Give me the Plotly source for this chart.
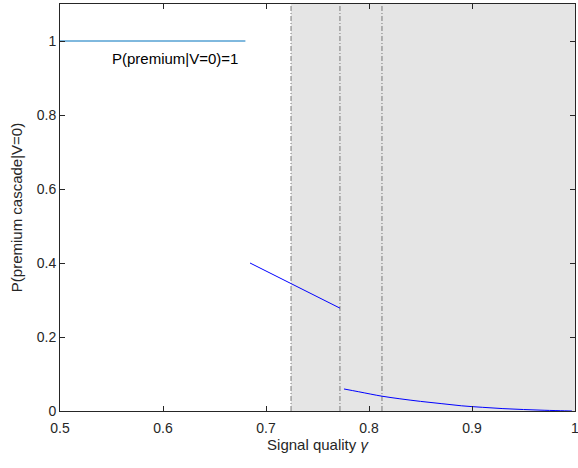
import plotly.graph_objects as go

# Data
x_flat = [0.5, 0.68]
y_flat = [1.0, 1.0]

x_mid = [0.6845, 0.70, 0.72, 0.74, 0.76, 0.7718]
y_mid = [0.400, 0.378, 0.350, 0.322, 0.295, 0.278]

x_low = [0.7757, 0.79, 0.8126, 0.83, 0.85, 0.87, 0.89, 0.91, 0.93, 0.95, 0.97, 0.99, 0.997]
y_low = [0.0595, 0.052, 0.040, 0.033, 0.026, 0.020, 0.014, 0.010, 0.0065, 0.004, 0.002, 0.0005, 0.0]

thresholds = [0.7243, 0.7718, 0.8126]
shade_start = 0.7243
shade_end = 1.0

x_ticks = [0.5, 0.6, 0.7, 0.8, 0.9, 1.0]
x_tick_labels = ["0.5", "0.6", "0.7", "0.8", "0.9", "1"]
y_ticks = [0, 0.2, 0.4, 0.6, 0.8, 1.0]
y_tick_labels = ["0", "0.2", "0.4", "0.6", "0.8", "1"]

font_family = "Liberation Sans, Arial, sans-serif"

fig = go.Figure()

fig.add_shape(type="rect", xref="x", yref="y", x0=shade_start, x1=shade_end, y0=0, y1=1.1,
              fillcolor="#E5E5E5", line_width=0, layer="below")
for t in thresholds:
    fig.add_shape(type="line", xref="x", yref="y", x0=t, x1=t, y0=0, y1=1.1,
                  line=dict(color="#7a7a7a", width=1, dash="5px,2px,1px,2px"), layer="below")

fig.add_trace(go.Scatter(x=x_flat, y=y_flat, mode="lines",
                         line=dict(color="#0072BD", width=1), showlegend=False))
fig.add_trace(go.Scatter(x=x_mid, y=y_mid, mode="lines",
                         line=dict(color="#0000FF", width=1), showlegend=False))
fig.add_trace(go.Scatter(x=x_low, y=y_low, mode="lines", line_shape="spline",
                         line=dict(color="#0000FF", width=1), showlegend=False))

fig.add_annotation(x=0.5485, y=0.954, xref="x", yref="y", text="P(premium|V=0)=1",
                   showarrow=False, xanchor="left", yanchor="middle",
                   font=dict(family=font_family, size=15, color="#000000"))

axis_common = dict(showgrid=False, zeroline=False, showline=True, linecolor="#262626",
                   linewidth=1, mirror="allticks", ticks="inside", ticklen=5,
                   tickcolor="#262626", automargin=False, ticklabeloverflow="allow",
                   tickfont=dict(family=font_family, size=14, color="#262626"))

fig.update_xaxes(range=[0.5, 1.0], tickvals=x_ticks, ticktext=x_tick_labels,
                 ticklabelstandoff=4,
                 title=dict(text="Signal quality <i>γ</i>", font=dict(family=font_family, size=15, color="#262626"),
                            standoff=2),
                 **axis_common)
fig.update_yaxes(range=[0, 1.1], tickvals=y_ticks, ticktext=y_tick_labels,
                 title=dict(text="P(premium cascade|V=0)", font=dict(family=font_family, size=15, color="#262626"),
                            standoff=10),
                 **axis_common)

fig.update_layout(width=578, height=468, margin=dict(l=60, r=3, t=4, b=57),
                  plot_bgcolor="white", paper_bgcolor="white",
                  font=dict(family=font_family))

fig.write_html("out.html", config={"displayModeBar": False},
               post_script="document.body.style.margin='0px';")
